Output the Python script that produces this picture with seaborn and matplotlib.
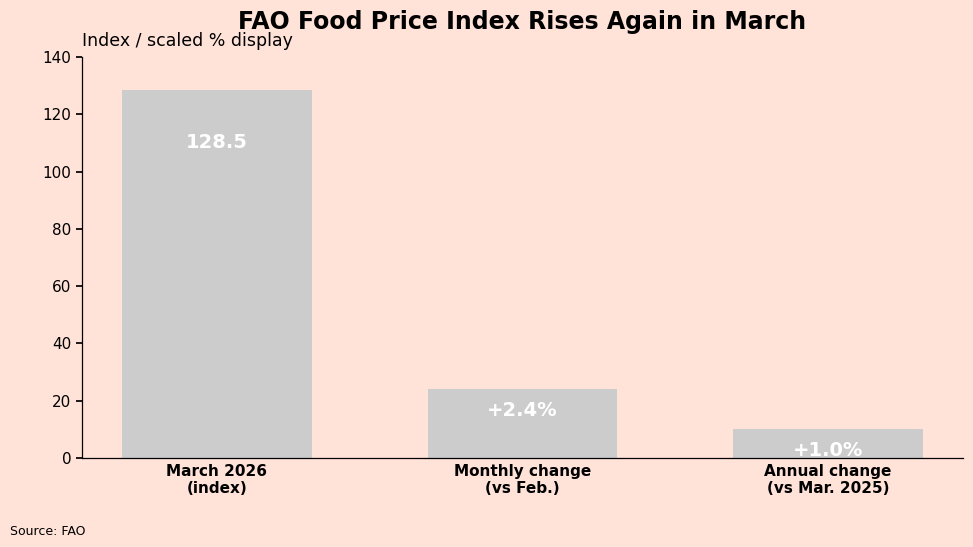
import matplotlib
matplotlib.use("Agg")
import matplotlib.pyplot as plt
import seaborn as sns
import pandas as pd

categories = ["March 2026\n(index)", "Monthly change\n(vs Feb.)", "Annual change\n(vs Mar. 2025)"]
values = [128.5, 24.0, 10.0]  # % changes scaled x10 for display
labels = ["128.5", "+2.4%", "+1.0%"]

bg = "#FFE2D8"
sns.set_theme(style="white")
plt.rcParams["font.family"] = ["DejaVu Sans"]
plt.rcParams["text.color"] = "black"
plt.rcParams["xtick.color"] = "black"
plt.rcParams["ytick.color"] = "black"
plt.rcParams["axes.labelcolor"] = "black"

df = pd.DataFrame({"category": categories, "value": values})

fig = plt.figure(figsize=(9.73, 5.47), dpi=100, facecolor=bg)
ax = fig.add_axes([0.0843, 0.1627, 0.9054, 0.7331])
ax.set_facecolor(bg)

sns.barplot(data=df, x="category", y="value", color="#CCCCCC", saturation=1,
            width=0.62, linewidth=0, ax=ax)
ax.set_xlim(-0.441, 2.441)
ax.set_ylim(0, 140)
ax.set_yticks(range(0, 141, 20))

for i, (v, lab) in enumerate(zip(values, labels)):
    y = v - 18.5 if v > 50 else v - 7.4
    ax.text(i, y, lab, ha="center", va="center", color="white",
            fontsize=14, fontweight="bold")

ax.set_xlabel("")
ax.set_ylabel("")
ax.tick_params(axis="x", labelsize=11, length=0, pad=4)
ax.tick_params(axis="y", labelsize=11, left=True, length=4, color="black")
for t in ax.get_xticklabels():
    t.set_fontweight("bold")
sns.despine(ax=ax)
for s in ["left", "bottom"]:
    ax.spines[s].set_color("black")
    ax.spines[s].set_linewidth(0.9)

ax.set_title("Index / scaled % display", loc="left", fontsize=12.5, pad=8)
fig.text(0.537, 0.960, "FAO Food Price Index Rises Again in March",
         ha="center", va="center", fontsize=17, fontweight="bold")
fig.text(0.010, 0.029, "Source: FAO", fontsize=9, ha="left", va="center")

fig.savefig("out.png", dpi=100, facecolor=bg)
